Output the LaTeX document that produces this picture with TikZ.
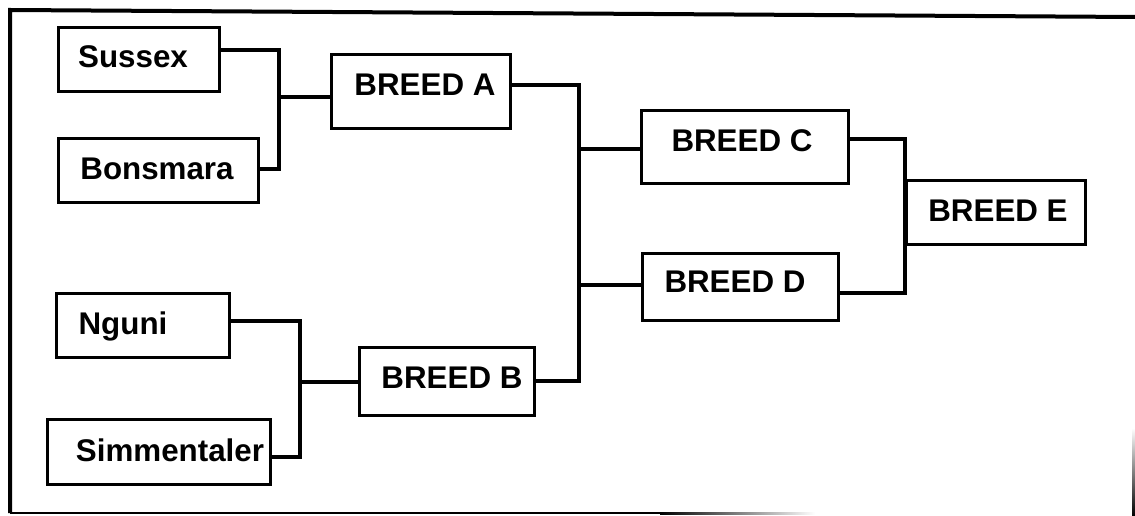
\documentclass[tikz,border=0pt]{standalone}
\usepackage{fontspec}
\setmainfont{Liberation Sans}
\newcommand\mybox[5]{\node[box, minimum width={(#4-#2-3)*0.75pt}, minimum height={(#5-#3-3)*0.75pt}] (#1) at ({(#2+#4)/2},{(#3+#5)/2}) {};}
\begin{document}
\begin{tikzpicture}[x=0.75pt,y=-0.75pt,
  box/.style={draw, rectangle, line width=2.4pt, inner sep=0pt},
  conn/.style={line width=2.3pt, line join=miter},
  lbl/.style={font=\bfseries\fontsize{23.5}{28}\selectfont, anchor=base, inner sep=0pt},
  frame/.style={line width=3pt}]
\useasboundingbox (0,0) rectangle (1135,516);
% outer frame
\draw[frame] (10,513) -- (10,10) -- (1135,17);
\draw[line width=1.4pt] (10,513) -- (660,513);
\shade[left color=black, right color=white] (660,512) rectangle (815,514);
\shade[top color=white, bottom color=black] (1132,428) rectangle (1135,516);
% boxes
\mybox{sus}{57}{26}{221}{93}
\mybox{bon}{57}{137}{260}{204}
\mybox{A}{330}{53}{512}{130}
\mybox{ngu}{55}{292}{231}{359}
\mybox{sim}{46}{418}{272}{486}
\mybox{B}{358}{346}{536}{417}
\mybox{C}{640}{109}{850}{185}
\mybox{D}{641}{252}{840}{322}
\mybox{E}{905}{179}{1087}{246}
% labels
\node[lbl] (tsus) at (133,68) {Sussex};
\node[lbl] (tbon) at (157,180) {Bonsmara};
\node[lbl] (tA) at (425,96) {BREED A};
\node[lbl] (tngu) at (123,335) {Nguni};
\node[lbl] (tsim) at (170,461) {Simmentaler};
\node[lbl] (tB) at (452,388) {BREED B};
\node[lbl] (tC) at (742,152) {BREED C};
\node[lbl] (tD) at (735,293) {BREED D};
\node[lbl] (tE) at (998,222) {BREED E};
% junctions
\coordinate (j1t) at (279,50);
\coordinate (j1b) at (279,169);
\coordinate (j1m) at (279,97);
\coordinate (j2t) at (300,321);
\coordinate (j2b) at (300,457);
\coordinate (j2m) at (300,382);
\coordinate (jA) at (579,85);
\coordinate (jB) at (579,381);
\coordinate (jC) at (579,149);
\coordinate (jD) at (579,285);
\coordinate (eT) at (905,139);
\coordinate (eB) at (905,293);
% connectors
\draw[conn] (sus.east |- j1t) -- (j1t) -- (j1b) -- (bon.east |- j1b);
\draw[conn] (j1m) -- (j1m -| A.west);
\draw[conn] (ngu.east |- j2t) -- (j2t) -- (j2b) -- (sim.east |- j2b);
\draw[conn] (j2m) -- (j2m -| B.west);
\draw[conn] (A.east |- jA) -- (jA) -- (jB) -- (B.east |- jB);
\draw[conn] (jC) -- (jC -| C.west);
\draw[conn] (jD) -- (jD -| D.west);
\draw[conn] (C.east |- eT) -- (eT) -- (eB) -- (D.east |- eB);
\end{tikzpicture}
\end{document}
